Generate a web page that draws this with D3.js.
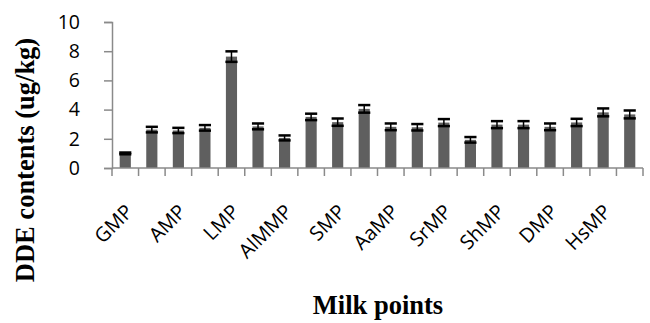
<!DOCTYPE html>
<html>
<head>
<meta charset="utf-8">
<script src="https://cdn.jsdelivr.net/npm/d3@7"></script>
<style>
  body { margin: 0; background: #fff; }
  svg { display: block; }
</style>
</head>
<body>
<script>
var WIDTH = 650, HEIGHT = 323;

// 20 milk points, only every other one is labelled on the axis
var categories = ['GMP', '', 'AMP', '', 'LMP', '', 'AlMMP', '', 'SMP', '',
                  'AaMP', '', 'SrMP', '', 'ShMP', '', 'DMP', '', 'HsMP', ''];
var values = [1.0, 2.63, 2.57, 2.75, 7.63, 2.85, 2.06, 3.5, 3.14, 4.05,
              2.82, 2.79, 3.11, 1.93, 2.97, 2.97, 2.82, 3.12, 3.81, 3.67];
var errors = [0.06, 0.19, 0.18, 0.19, 0.36, 0.2, 0.17, 0.22, 0.25, 0.26,
              0.23, 0.22, 0.24, 0.19, 0.24, 0.24, 0.23, 0.25, 0.27, 0.27];
var yTicks = [0, 2, 4, 6, 8, 10];

var margin = { left: 112, right: 7, top: 22, bottom: 155 };

var svg = d3.select('body').append('svg').attr('width', WIDTH).attr('height', HEIGHT);

var x = d3.scaleBand()
    .domain(d3.range(categories.length))
    .range([margin.left, WIDTH - margin.right])
    .paddingInner(0.58)
    .paddingOuter(0.29);

var y = d3.scaleLinear()
    .domain([0, 10])
    .range([HEIGHT - margin.bottom, margin.top]);

var AXIS_COLOR = '#8a8a8a';

// bars
svg.append('g').selectAll('rect')
    .data(values)
    .enter().append('rect')
    .attr('x', (d, i) => x(i))
    .attr('y', d => y(d))
    .attr('width', x.bandwidth())
    .attr('height', d => y(0) - y(d))
    .attr('fill', '#5f5f5f');

// error bars
var err = svg.append('g').selectAll('g')
    .data(values)
    .enter().append('g')
    .attr('stroke', '#000');
err.append('line')
    .attr('x1', (d, i) => x(i) + x.bandwidth() / 2)
    .attr('x2', (d, i) => x(i) + x.bandwidth() / 2)
    .attr('y1', (d, i) => y(d + errors[i]))
    .attr('y2', (d, i) => y(d - errors[i]))
    .attr('stroke-width', 1.5);
err.append('line')
    .attr('x1', (d, i) => x(i) - 0.5)
    .attr('x2', (d, i) => x(i) + x.bandwidth() + 0.5)
    .attr('y1', (d, i) => y(d + errors[i]))
    .attr('y2', (d, i) => y(d + errors[i]))
    .attr('stroke-width', 2.5);
err.append('line')
    .attr('x1', (d, i) => x(i) - 0.5)
    .attr('x2', (d, i) => x(i) + x.bandwidth() + 0.5)
    .attr('y1', (d, i) => y(d - errors[i]))
    .attr('y2', (d, i) => y(d - errors[i]))
    .attr('stroke-width', 2.5);

// y axis
var yAxis = svg.append('g')
    .attr('transform', 'translate(' + margin.left + ',0)')
    .call(d3.axisLeft(y).tickValues(yTicks).tickSize(8).tickPadding(24));
yAxis.selectAll('path, line').attr('stroke', AXIS_COLOR).attr('stroke-width', 1.5);
yAxis.selectAll('text')
    .attr('font-family', '"Open Sans", sans-serif')
    .attr('font-size', 19.5)
    .attr('fill', '#000');

// x axis: tick marks between categories
var xAxisG = svg.append('g').attr('stroke', AXIS_COLOR).attr('stroke-width', 1.5);
xAxisG.append('line')
    .attr('x1', margin.left).attr('x2', WIDTH - margin.right)
    .attr('y1', y(0)).attr('y2', y(0));
var step = x.step();
xAxisG.selectAll('.tick')
    .data(d3.range(categories.length + 1))
    .enter().append('line')
    .attr('x1', d => margin.left + d * step)
    .attr('x2', d => margin.left + d * step)
    .attr('y1', y(0))
    .attr('y2', y(0) + 8);

// x labels, rotated 45 degrees
svg.append('g').selectAll('text')
    .data(categories)
    .enter().append('text')
    .attr('transform', (d, i) => 'translate(' + (x(i) + x.bandwidth() / 2 + 9) + ',' + (y(0) + 45) + ') rotate(-45)')
    .attr('text-anchor', 'end')
    .attr('font-family', '"Open Sans", sans-serif')
    .attr('font-size', 20)
    .text(d => d);

// axis titles
svg.append('text')
    .attr('transform', 'translate(34,' + 160 + ') rotate(-90)')
    .attr('text-anchor', 'middle')
    .attr('font-family', '"Liberation Serif", "Times New Roman", serif')
    .attr('font-weight', 'bold')
    .attr('font-size', 26.5)
    .text('DDE contents (ug/kg)');

svg.append('text')
    .attr('x', 378)
    .attr('y', 314)
    .attr('text-anchor', 'middle')
    .attr('font-family', '"Liberation Serif", "Times New Roman", serif')
    .attr('font-weight', 'bold')
    .attr('font-size', 26.5)
    .text('Milk points');
</script>
</body>
</html>
